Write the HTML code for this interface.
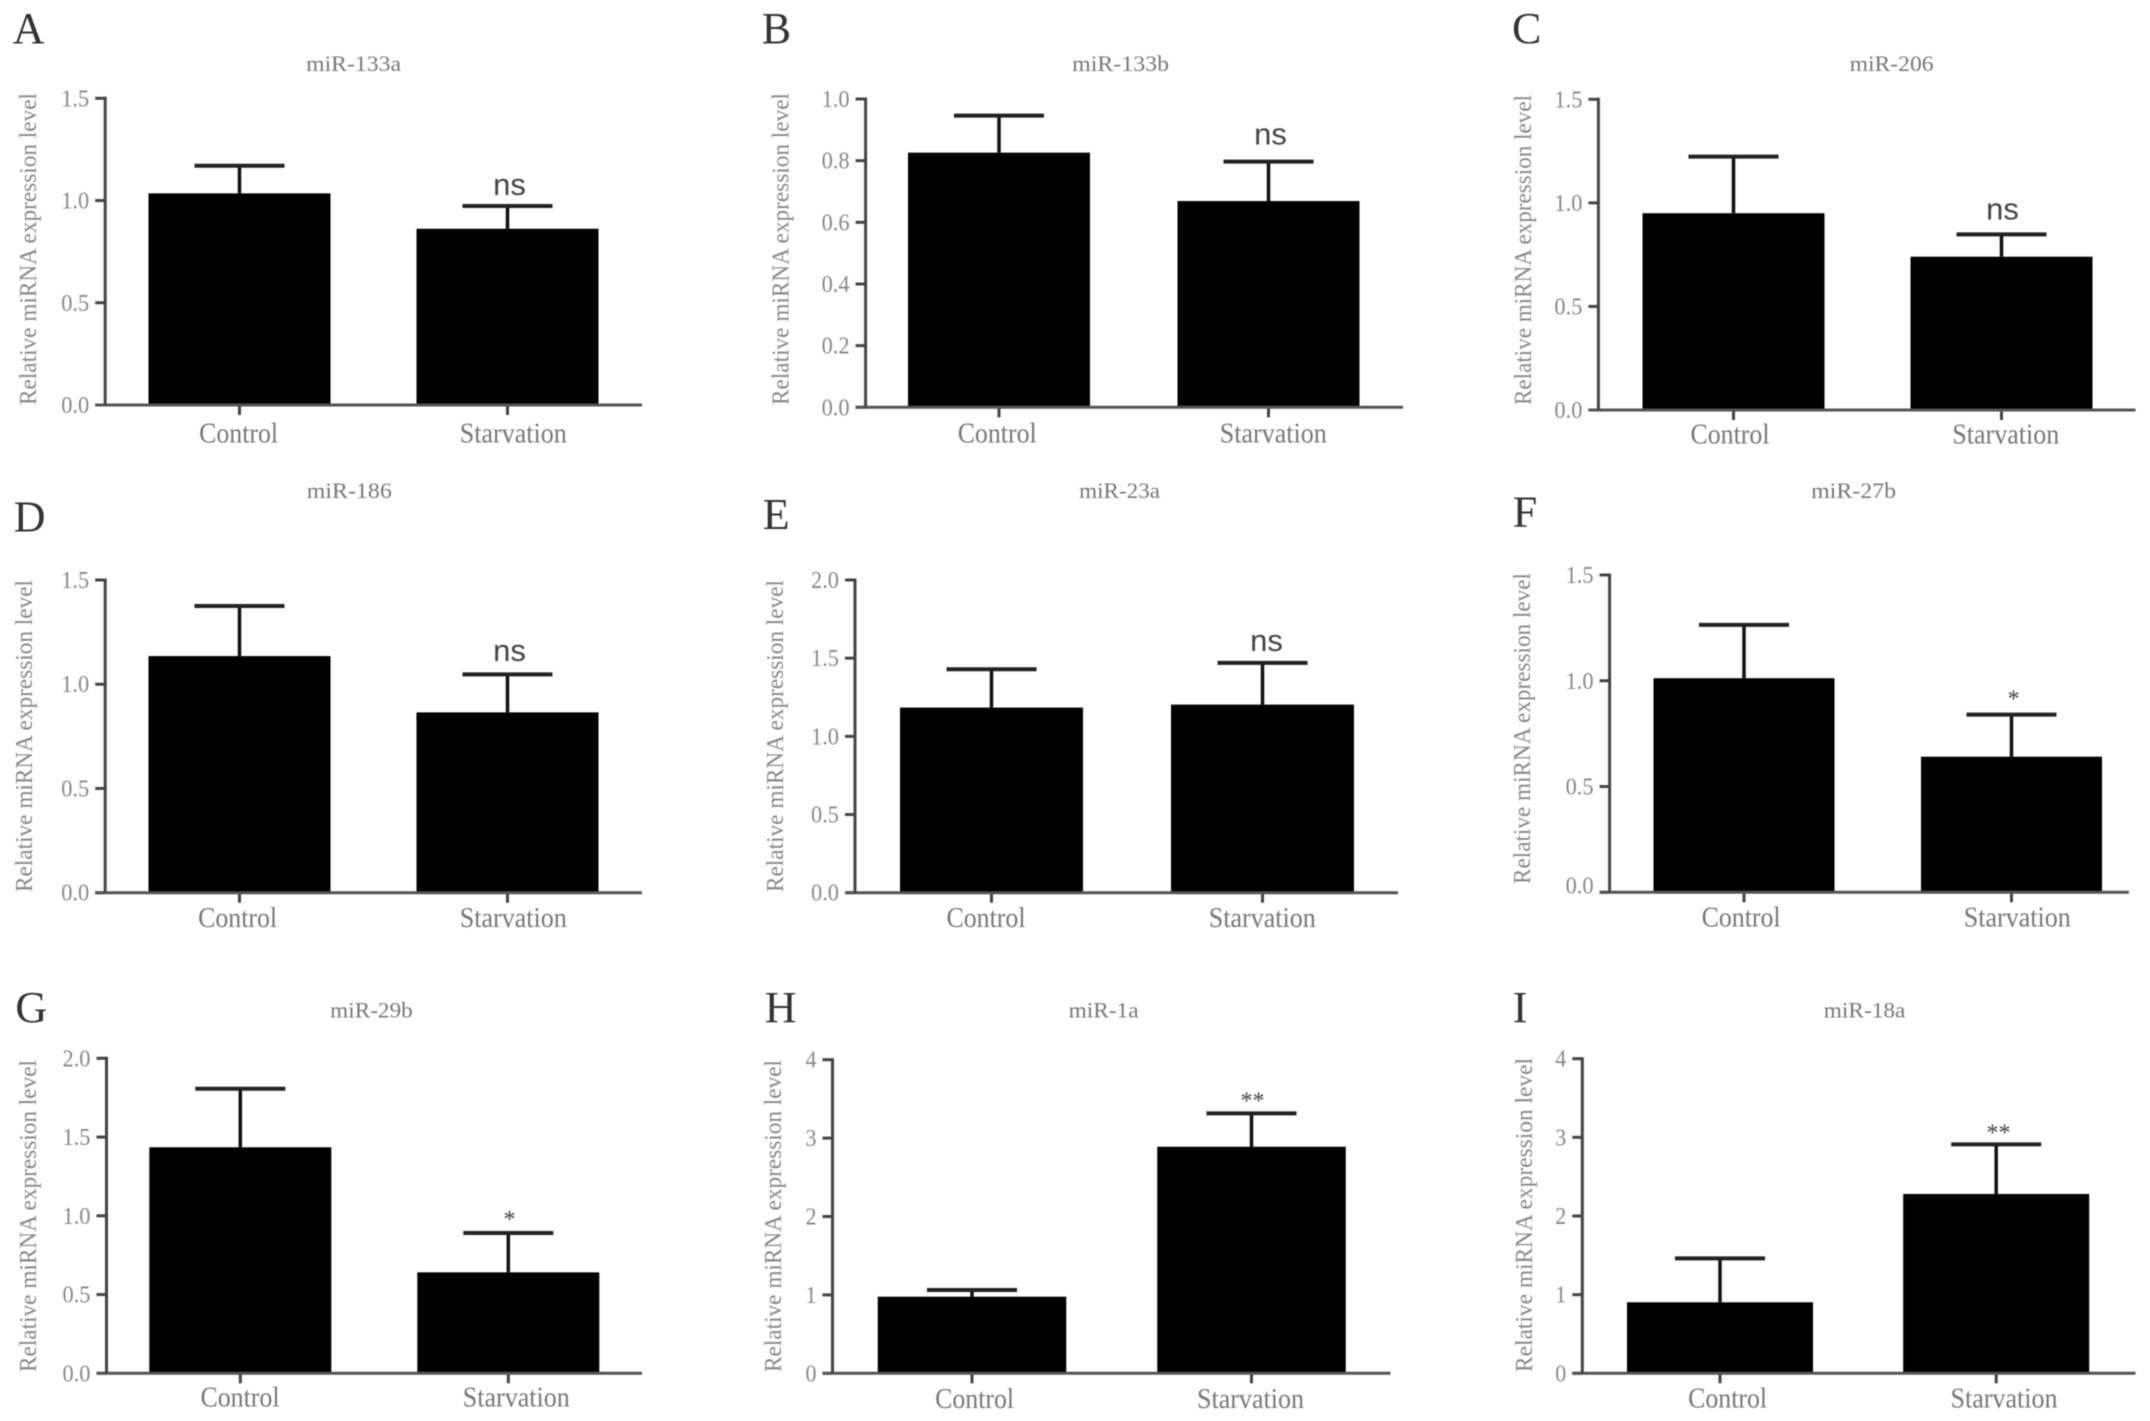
<!DOCTYPE html>
<html lang="en">
<head>
<meta charset="utf-8">
<title>miRNA expression under starvation</title>
<style>
html,body{margin:0;padding:0;background:#fff;width:2150px;height:1421px;overflow:hidden}
svg{display:block;filter:blur(.55px)}
text{font-family:"Liberation Serif",serif}
</style>
</head>
<body>
<svg id="figure" xmlns="http://www.w3.org/2000/svg" width="2150" height="1421" viewBox="0 0 2150 1421"></svg>
<script>
const panelLetters = ['A','B','C','D','E','F','G','H','I'];
const panelTitles = ['miR-133a','miR-133b','miR-206','miR-186','miR-23a','miR-27b','miR-29b','miR-1a','miR-18a'];
const categories = ['Control','Starvation'];
const yAxisTitle = 'Relative miRNA expression level';
const controlMeans = [1.035,0.826,0.95,1.135,1.184,1.012,1.435,0.977,0.903];
const controlErrors = [0.135,0.12,0.273,0.24,0.245,0.252,0.372,0.086,0.559];
const starvationMeans = [0.862,0.669,0.74,0.865,1.203,0.641,0.641,2.89,2.28];
const starvationErrors = [0.111,0.128,0.108,0.182,0.267,0.199,0.25,0.426,0.63];
const significance = ['ns','ns','ns','ns','ns','*','*','**','**'];
const yTickLabels = [
  ['0.0','0.5','1.0','1.5'],
  ['0.0','0.2','0.4','0.6','0.8','1.0'],
  ['0.0','0.5','1.0','1.5'],
  ['0.0','0.5','1.0','1.5'],
  ['0.0','0.5','1.0','1.5','2.0'],
  ['0.0','0.5','1.0','1.5'],
  ['0.0','0.5','1.0','1.5','2.0'],
  ['0','1','2','3','4'],
  ['0','1','2','3','4']
];

/* Panel frames (layout only, no data values) */
const frames = [
  {axisX:105.2,top:98.3,base:405,right:642,cats:[239.5,507.5],barW:182,titleX:353.6,titleY:71,titleW:95,labelXs:[238.6,513.3],labelY:442.5,yTitleX:36,yTop:93,yBottom:405,letterX:12.8,letterY:43,sigX:509.5,sigDy:-11,zeroLabelDy:0},
  {axisX:865.6,top:99,base:407.3,right:1403,cats:[999,1268.5],barW:182,titleX:1120.6,titleY:71,titleW:97,labelXs:[997.2,1273.3],labelY:442.5,yTitleX:788.5,yTop:93,yBottom:405,letterX:761.8,letterY:43,sigX:1270.5,sigDy:-17,zeroLabelDy:0},
  {axisX:1598.4,top:99.3,base:410,right:2135.5,cats:[1733.5,2001.5],barW:182,titleX:1891.6,titleY:71,titleW:84,labelXs:[1730,2005.8],labelY:443.5,yTitleX:1531,yTop:95,yBottom:405,letterX:1512,letterY:43,sigX:2002.5,sigDy:-15,zeroLabelDy:0},
  {axisX:105.2,top:580,base:892.7,right:642,cats:[239.5,507.5],barW:182,titleX:349.3,titleY:498,titleW:85,labelXs:[237.6,513.3],labelY:927,yTitleX:32,yTop:580,yBottom:892,letterX:13.8,letterY:531.7,sigX:509.5,sigDy:-13.6,zeroLabelDy:0},
  {axisX:855,top:580,base:892.7,right:1398,cats:[991.5,1262.5],barW:183,titleX:1119.6,titleY:498,titleW:81,labelXs:[986,1262.3],labelY:927,yTitleX:783,yTop:580,yBottom:892,letterX:762.8,letterY:529,sigX:1266.5,sigDy:-12,zeroLabelDy:0},
  {axisX:1609.6,top:575,base:892.3,right:2128.8,cats:[1744,2011.5],barW:181,titleX:1853.6,titleY:498,titleW:85,labelXs:[1741.1,2017.3],labelY:926.5,yTitleX:1530,yTop:573,yBottom:884,letterX:1512.8,letterY:526.7,sigX:2013.5,sigDy:-8,zeroLabelDy:-7},
  {axisX:106.5,top:1058.3,base:1373.3,right:642,cats:[240.3,508.3],barW:182,titleX:371.5,titleY:1017.3,titleW:82.6,labelXs:[240,516.3],labelY:1406.7,yTitleX:36,yTop:1060,yBottom:1372,letterX:15.4,letterY:1022,sigX:509.5,sigDy:-6,zeroLabelDy:0},
  {axisX:832.5,top:1059.7,base:1373.3,right:1390.5,cats:[972,1251.5],barW:188.5,titleX:1103.6,titleY:1017.3,titleW:70,labelXs:[974.6,1250.5],labelY:1408,yTitleX:781,yTop:1060,yBottom:1372,letterX:764.8,letterY:1022,sigX:1252.5,sigDy:-5,zeroLabelDy:0},
  {axisX:1582.3,top:1058.7,base:1373.3,right:2135.5,cats:[1720,1996.2],barW:186,titleX:1864.6,titleY:1017.3,titleW:81.6,labelXs:[1727.6,2004],labelY:1407.5,yTitleX:1532,yTop:1058,yBottom:1372,letterX:1512.8,letterY:1022,sigX:1998.5,sigDy:-4,zeroLabelDy:0}
];
const categoryLabelWidths = [79,107];

const NS = 'http://www.w3.org/2000/svg';
const svg = document.getElementById('figure');
function make(tag, parent, attrs, txt){
  const el = document.createElementNS(NS, tag);
  for (const k in attrs) el.setAttribute(k, attrs[k]);
  if (txt !== undefined) el.textContent = txt;
  parent.appendChild(el);
  return el;
}

panelTitles.forEach(function(title, p){
  const f = frames[p];
  const ticks = yTickLabels[p];
  const yMax = parseFloat(ticks[ticks.length - 1]);
  const yScale = function(v){ return f.base - (v / yMax) * (f.base - f.top); };

  const g = make('g', svg, {});
  
  

  const letter = make('text', g, {x:f.letterX, y:f.letterY, 'font-size':44, fill:'#333'}, panelLetters[p]);
  
  

  const chartTitle = make('text', g, {x:f.titleX, y:f.titleY, 'font-size':22, fill:'#777', 'text-anchor':'middle', textLength:f.titleW, lengthAdjust:'spacingAndGlyphs'}, title);
  
  

  const yTitleLen = f.yBottom - f.yTop;
  const yTitleMid = (f.yBottom + f.yTop) / 2;
  const yTitle = make('text', g, {x:0, y:0, 'font-size':24, fill:'#888', 'text-anchor':'middle', textLength:yTitleLen, lengthAdjust:'spacingAndGlyphs', transform:'translate(' + f.yTitleX + ',' + yTitleMid + ') rotate(-90)'}, yAxisTitle);
  
  

  ticks.forEach(function(lab, t){
    const v = parseFloat(lab);
    const ty = yScale(v);
    const tick = make('line', g, {x1:f.axisX - 10, x2:f.axisX, y1:ty, y2:ty, stroke:'#444', 'stroke-width':3});
    
    
    const labelY = ty + 8 + (t === 0 ? f.zeroLabelDy : 0);
    const tl = make('text', g, {x:f.axisX - 16, y:labelY, 'font-size':24, fill:'#888', 'text-anchor':'end', textLength:lab.length > 1 ? 28 : 11, lengthAdjust:'spacingAndGlyphs'}, lab);
    
    
  });

  const means = [controlMeans[p], starvationMeans[p]];
  const errors = [controlErrors[p], starvationErrors[p]];

  categories.forEach(function(cat, i){
    const cx = f.cats[i];
    const topY = yScale(means[i]);
    const errY = yScale(means[i] + errors[i]);

    const bar = make('rect', g, {x:cx - f.barW / 2, y:topY, width:f.barW, height:f.base - topY, fill:'#000'});
    
    

    const stem = make('line', g, {x1:cx, x2:cx, y1:topY, y2:errY, stroke:'#111', 'stroke-width':3.5});
    
    

    const cap = make('line', g, {x1:cx - 45, x2:cx + 45, y1:errY, y2:errY, stroke:'#222', 'stroke-width':4});
    
    

    const ct = make('line', g, {x1:cx, x2:cx, y1:f.base, y2:f.base + 10, stroke:'#444', 'stroke-width':3});
    
    

    const cl = make('text', g, {x:f.labelXs[i], y:f.labelY, 'font-size':28, fill:'#777', 'text-anchor':'middle', textLength:categoryLabelWidths[i], lengthAdjust:'spacingAndGlyphs'}, cat);
    
    
  });

  const xAxis = make('line', g, {x1:f.axisX - 10, x2:f.right, y1:f.base, y2:f.base, stroke:'#555', 'stroke-width':3});
  
  

  const yAxis = make('line', g, {x1:f.axisX, x2:f.axisX, y1:f.top - 1.5, y2:f.base, stroke:'#444', 'stroke-width':3});
  
  

  const sigY = yScale(starvationMeans[p] + starvationErrors[p]) + f.sigDy;
  const isNs = significance[p] === 'ns';
  const sig = make('text', g, {x:f.sigX, y:sigY, 'font-size':isNs ? 31 : 24, fill:'#444', 'text-anchor':'middle', style:isNs ? 'font-family:"Liberation Sans",sans-serif' : ''}, significance[p]);
  
  
});
</script>
</body>
</html>
